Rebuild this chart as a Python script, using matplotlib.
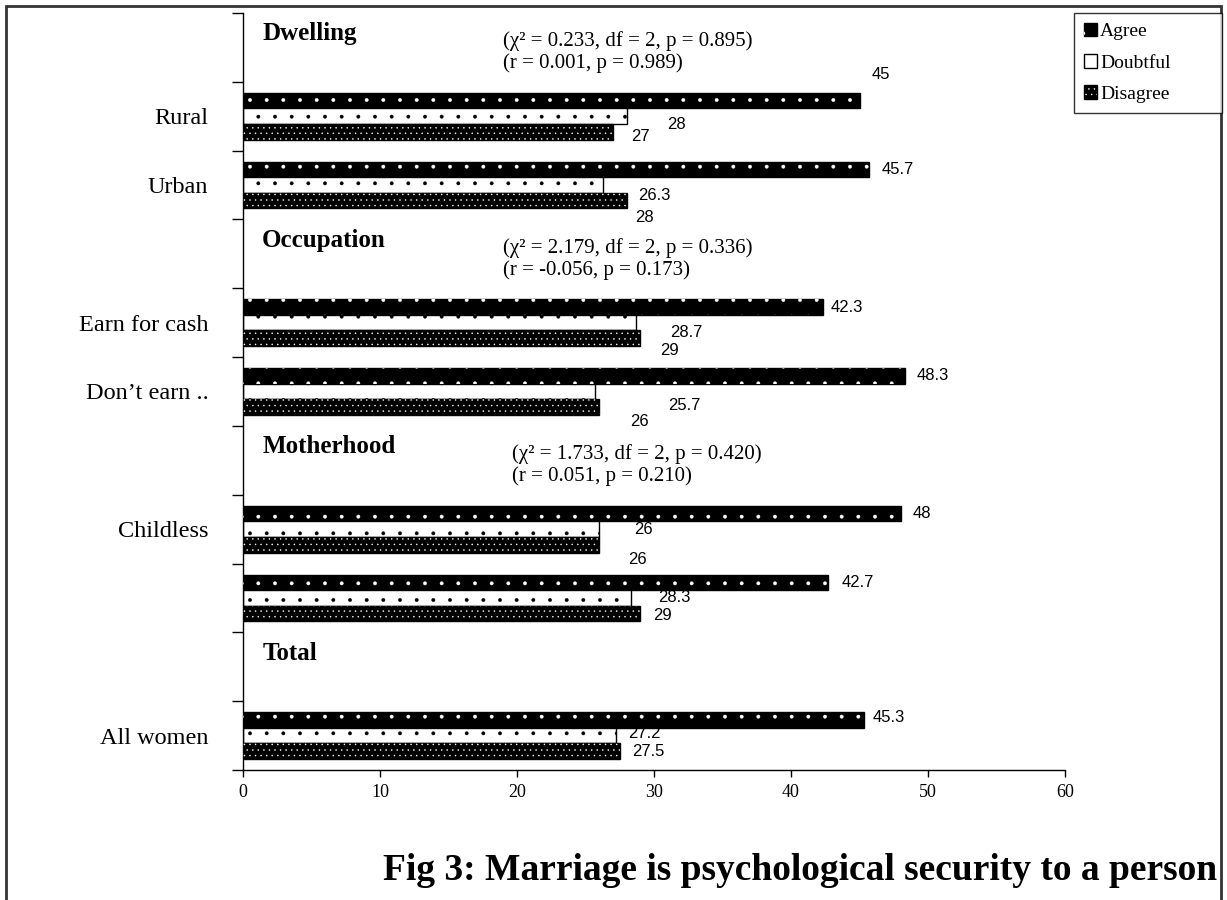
import matplotlib
matplotlib.use("Agg")
import matplotlib.pyplot as plt
from matplotlib.patches import Rectangle
import numpy as np

# ---- data -------------------------------------------------------------
group_names = ["Dwelling", "Occupation", "Motherhood", "Total"]
group_sizes = [2, 2, 2, 1]
row_labels = ["Rural", "Urban", "Earn for cash", "Don\u2019t earn ..", "Childless", "", "All women"]
agree = [45, 45.7, 42.3, 48.3, 48, 42.7, 45.3]
doubtful = [28, 26.3, 28.7, 25.7, 26, 28.3, 27.2]
disagree = [27, 28, 29, 26, 26, 29, 27.5]
series_names = ["Agree", "Doubtful", "Disagree"]
chi_stats = ["(\u03c7\u00b2 = 0.233, df = 2, p = 0.895)",
             "(\u03c7\u00b2 = 2.179, df = 2, p = 0.336)",
             "(\u03c7\u00b2 = 1.733, df = 2, p = 0.420)"]
r_stats = ["(r = 0.001, p = 0.989)",
           "(r = -0.056, p = 0.173)",
           "(r = 0.051, p = 0.210)"]
x_ticks = [0, 10, 20, 30, 40, 50, 60]
title = "Fig 3: Marriage is psychological security to a person"

# ---- label placement (pixel offsets from the bar end: right, down) ----
agree_off = [(12, -26), (13, 0), (8, 0), (12, 0), (12, 0), (14, 0), (9, -2)]
doubt_off = [(41, 8), (35, 10), (34, 10), (73, 14), (35, 0), (27, 0), (12, -2)]
disag_off = [(18, 5), (9, 17), (20, 12), (31, 14), (29, 15), (13, 2), (12, 0)]
stat_x = [19.0, 19.0, 19.6]

SERIF = "Liberation Serif"
SANS = "Liberation Sans"

plt.rcParams["hatch.linewidth"] = 0.3

W, H = 1227, 900
fig = plt.figure(figsize=(W / 100, H / 100), dpi=100)
ax = fig.add_axes([243 / W, 1 - 770 / H, (1065 - 243) / W, (770 - 13) / H])

# slot layout: one header slot per group followed by its rows
ypos, header_pos = [], []
slot = 0
for n in group_sizes:
    header_pos.append(slot)
    slot += 1
    for _ in range(n):
        ypos.append(slot)
        slot += 1
n_slots = slot
ypos = np.array(ypos, dtype=float)

bh = 0.227
styles = [
    (agree, "black", "white", ".", -bh, agree_off),
    (doubtful, "white", "black", ".", 0.0, doubt_off),
    (disagree, "black", "white", "...", bh, disag_off),
]
handles = []
for vals, face, dot, hatch, off, loff in styles:
    solid = ax.barh(ypos + off, vals, height=bh, color=face,
                    edgecolor="black", linewidth=1, zorder=2)
    dots = ax.barh(ypos + off, vals, height=bh, color="none",
                   edgecolor=dot, linewidth=0, hatch=hatch, zorder=3)
    handles.append((solid.patches[0], dots.patches[0]))
    for v, y, (dx, dy) in zip(vals, ypos + off, loff):
        ax.annotate(f"{v:g}", xy=(v, y), xytext=(dx, -dy),
                    textcoords="offset pixels", ha="left", va="center",
                    fontsize=12, family=SANS, color="black")

# group headings and test statistics
for i, (name, hp) in enumerate(zip(group_names, header_pos)):
    ax.text(1.4, hp - 0.2, name, fontsize=18, fontweight="bold",
            family=SERIF, ha="left", va="center")
    if i < len(chi_stats):
        ax.text(stat_x[i], hp - 0.09, chi_stats[i], fontsize=15,
                family=SERIF, ha="left", va="center")
        ax.text(stat_x[i], hp + 0.23, r_stats[i], fontsize=15,
                family=SERIF, ha="left", va="center")

# axes styling
ax.set_xlim(0, 60)
ax.set_ylim(n_slots - 0.5, -0.5)
ax.set_xticks(x_ticks)
ax.set_xticklabels([str(t) for t in x_ticks], family=SERIF, fontsize=13)
ax.set_yticks(ypos)
ax.set_yticklabels(row_labels, family=SERIF, fontsize=17.5)
ax.set_yticks(np.arange(-0.5, n_slots), minor=True)
ax.tick_params(axis="y", which="major", length=0, pad=25)
ax.tick_params(axis="y", which="minor", length=8, width=1, direction="out")
ax.tick_params(axis="x", length=5, width=1, direction="out", pad=5)
for s in ("top", "right"):
    ax.spines[s].set_visible(False)
for s in ("left", "bottom"):
    ax.spines[s].set_linewidth(1)

# legend
leg = fig.legend(handles, series_names, loc="upper left",
                 bbox_to_anchor=(1074 / W, 1 - 113 / H, 148 / W, 100 / H),
                 mode="expand", borderaxespad=0,
                 frameon=True, fancybox=False, edgecolor="black",
                 handlelength=0.7, handleheight=0.7, handletextpad=0.15,
                 labelspacing=0.7, borderpad=0.5,
                 prop={"family": SERIF, "size": 14})
leg.get_frame().set_linewidth(1)

# figure frame and caption
fig.add_artist(Rectangle((6 / W, -0.02), (1221 - 6) / W, 1.02 - 6 / H,
                         transform=fig.transFigure, fill=False,
                         edgecolor="#333333", linewidth=2))
fig.text(800 / W, 1 - 870 / H, title, ha="center", va="center",
         fontsize=27, fontweight="bold", family=SERIF)

fig.savefig("out.png", dpi=100)
